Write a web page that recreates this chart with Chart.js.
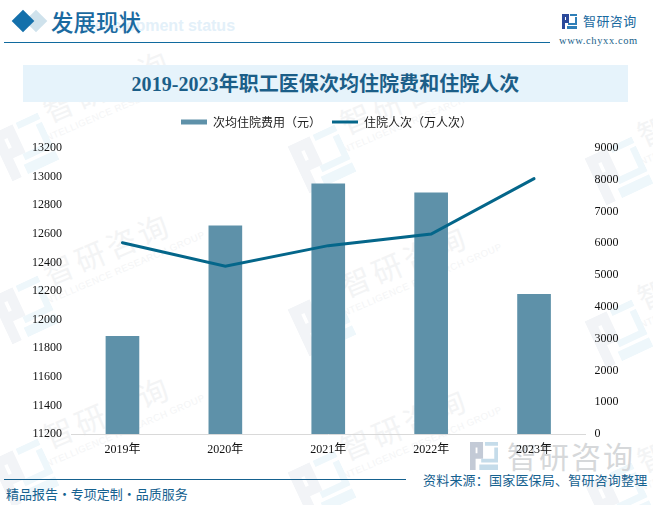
<!DOCTYPE html>
<html>
<head>
<meta charset="utf-8">
<script src="https://cdn.jsdelivr.net/npm/chart.js"></script>
<style>
  html, body { margin: 0; padding: 0; background: #fff; }
  #page { position: relative; width: 653px; height: 505px; overflow: hidden; font-family: "Noto Sans CJK SC", sans-serif; }
  #page div, #page svg { position: absolute; white-space: nowrap; }
  #marks { left: 0; top: 0; width: 653px; height: 505px; }
  canvas { position: absolute; left: 0; top: 0; }
  .wm { width: 160px; height: 60px; transform: rotate(-23deg); transform-origin: center; }
  .wmText { left: 0; top: 0; width: 160px; text-align: center; font-size: 30px; letter-spacing: 4px; color: #f3f4f5; }
  .wmSub { left: 0; top: 42px; width: 160px; text-align: center; font: 9.5px "Liberation Sans"; color: #f4f5f6; letter-spacing: .5px; }
</style>
</head>
<body>
<div id="page">
  <div id="marks"></div>

  <!-- header -->
  <div style="left:83px;top:17px;font:bold 16px 'Liberation Sans';color:#e3f0f9">Development status</div>
  <div style="left:28px;top:13px;width:16px;height:16px;background:#cfe2ec;transform:rotate(45deg)"></div>
  <div style="left:15px;top:13px;width:16px;height:16px;background:#1470ab;transform:rotate(45deg)"></div>
  <div style="left:51px;top:4px;font-size:22.5px;line-height:34px;font-weight:500;color:#1a6aa0">发展现状</div>
  <div style="left:4px;top:42px;width:546px;height:1px;background:#106a9e"></div>

  <!-- top right logo -->
  <svg style="left:562px;top:14px" width="15" height="15" viewBox="0 0 15 15">
    <path d="M0 0H7V9H3V15H0ZM3 3V6H4V3Z" fill="#2b4a9b"/>
    <path d="M8 0H15V2H8ZM13 3H15V11H6V9H13ZM5 12H15V15H5Z" fill="#2f7fb8"/>
  </svg>
  <div style="left:583px;top:11px;font-size:13px;line-height:20px;color:#1a6aa0;letter-spacing:.4px">智研咨询</div>
  <div style="left:559px;top:35px;font:10.5px/12px 'Liberation Serif';color:#1a5f8a;letter-spacing:.6px">www.chyxx.com</div>

  <!-- title band -->
  <div style="left:23px;top:65px;width:605px;height:37px;background:#e6f3fb"></div>
  <div style="left:23px;top:65px;width:605px;height:37px;line-height:39px;text-align:center;font-family:'Liberation Serif','Noto Sans CJK SC';font-size:20px;letter-spacing:.05px;font-weight:700;color:#1b5e88">2019-2023年职工医保次均住院费和住院人次</div>

  <!-- footer -->
  <svg style="left:470px;top:442px" width="28" height="28" viewBox="0 0 15 15">
    <path d="M0 0H7V9H3V15H0ZM3 3V6H4V3Z" fill="#c3cad6"/>
    <path d="M8 0H15V2H8ZM13 3H15V11H6V9H13ZM5 12H15V15H5Z" fill="#c5dcea"/>
  </svg>
  <div style="left:507px;top:435px;font-size:30px;line-height:40px;letter-spacing:2px;color:#d6d8da">智研咨询</div>
  <div style="left:4px;top:479px;width:402px;height:1px;background:#15618f"></div>
  <div style="left:6px;top:484px;font-size:13px;line-height:20px;word-spacing:-3px;color:#15618f">精品报告 · 专项定制 · 品质服务</div>
  <div style="left:423px;top:470px;font-size:13px;line-height:20px;letter-spacing:.2px;color:#15618f">资料来源：国家医保局、智研咨询整理</div>

  <canvas id="chart" width="653" height="505"></canvas>
</div>

<script>
const years = ['2019年', '2020年', '2021年', '2022年', '2023年'];
const avgCost = [11883, 12656, 12949, 12886, 12176];
const inpatients = [6021, 5278, 5927, 6294, 8037];
const costLabel = '次均住院费用（元）';
const peopleLabel = '住院人次（万人次）';

// background watermark tiles
const marks = document.getElementById('marks');
for (let col = 0; col < 3; col++) {
  for (let row = -1; row < 2; row++) {
    const cx = 110 + 297 * col;
    const cy = 255 + 12 * col + 163 * row;
    const wm = document.createElement('div');
    wm.className = 'wm';
    wm.style.left = (cx - 80) + 'px';
    wm.style.top = (cy - 30) + 'px';
    wm.innerHTML = '<div class="wmText">智研咨询</div><div class="wmSub">INTELLIGENCE RESEARCH GROUP</div>';
    marks.appendChild(wm);

    const ns = 'http://www.w3.org/2000/svg';
    const logo = document.createElementNS(ns, 'svg');
    logo.setAttribute('width', '52');
    logo.setAttribute('height', '52');
    logo.setAttribute('viewBox', '0 0 15 15');
    logo.style.left = (cx - 111) + 'px';
    logo.style.top = (cy + 29) + 'px';
    logo.style.transform = 'rotate(-25deg)';
    logo.innerHTML = '<path d="M0 0H7V9H3V15H0ZM3 3V6H4V3Z" fill="#f2f4f7"/><path d="M8 0H15V2H8ZM13 3H15V11H6V9H13ZM5 12H15V15H5Z" fill="#eef7fb"/>';
    marks.appendChild(logo);
  }
}

const tickFont = { family: "'Liberation Serif', 'Noto Sans CJK SC'", size: 12 };
const plainNumber = function(value) { return String(value); };

// push the plot down from the legend without moving the legend
const legendGap = {
  id: 'legendGap',
  beforeInit: function(chart) {
    const fit = chart.legend.fit;
    chart.legend.fit = function() {
      fit.call(this);
      this.height += 10;
    };
  }
};

new Chart(document.getElementById('chart'), {
  type: 'bar',
  plugins: [legendGap],
  data: {
    labels: years,
    datasets: [
      {
        type: 'line',
        label: peopleLabel,
        data: inpatients,
        yAxisID: 'y1',
        borderColor: '#04668a',
        backgroundColor: '#04668a',
        borderWidth: 3,
        borderCapStyle: 'round',
        tension: 0,
        pointRadius: 0,
        order: 0
      },
      {
        label: costLabel,
        data: avgCost,
        yAxisID: 'y',
        backgroundColor: '#5e91a9',
        barThickness: 33,
        order: 1
      }
    ]
  },
  options: {
    responsive: false,
    animation: false,
    layout: { padding: { top: 105, left: 0, right: 0, bottom: 0 } },
    plugins: {
      tooltip: { enabled: false },
      legend: {
        position: 'top',
        labels: {
          usePointStyle: true,
          pointStyleWidth: 26,
          boxHeight: 5,
          padding: 11,
          color: '#222',
          font: { family: "'Noto Sans CJK SC'", size: 12 },
          generateLabels: function(chart) {
            return [costLabel, peopleLabel].map(function(text, i) {
              const colors = ['#5e91a9', '#04668a'];
              return {
                text: text,
                pointStyle: 'line',
                strokeStyle: colors[i],
                fillStyle: colors[i],
                lineWidth: i === 0 ? 5 : 3,
                fontColor: '#222',
                datasetIndex: i === 0 ? 1 : 0
              };
            });
          }
        }
      }
    },
    scales: {
      x: {
        grid: { display: false, drawTicks: false },
        border: { color: '#d9d9d9', width: 1 },
        ticks: { color: '#111', font: tickFont, padding: 9, maxRotation: 0 },
        afterFit: function(scale) { scale.height = 71; }
      },
      y: {
        position: 'left',
        min: 11200,
        max: 13200,
        grid: { display: false, drawTicks: false },
        border: { display: false },
        ticks: { stepSize: 200, color: '#111', font: tickFont, padding: 9, callback: plainNumber },
        afterFit: function(scale) { scale.width = 71; }
      },
      y1: {
        position: 'right',
        min: 0,
        max: 9000,
        grid: { display: false, drawTicks: false },
        border: { display: false },
        ticks: { stepSize: 1000, color: '#111', font: tickFont, padding: 9, callback: plainNumber },
        afterFit: function(scale) { scale.width = 67.5; }
      }
    }
  }
});
</script>
</body>
</html>
